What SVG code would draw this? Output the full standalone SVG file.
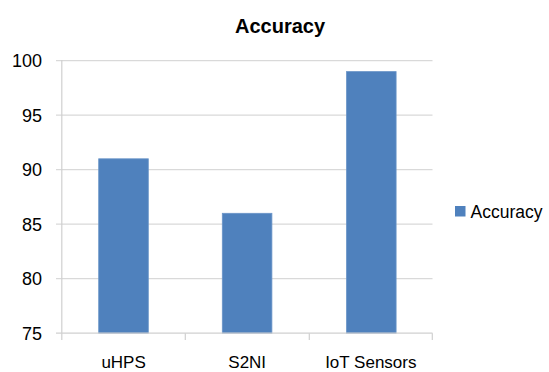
<svg xmlns="http://www.w3.org/2000/svg" width="549" height="372" viewBox="0 0 549 372">
  <style>
    text { font-family: "Liberation Sans", Arial, sans-serif; fill: #000; }
    .title { font-size: 20px; font-weight: bold; }
    .ytick { font-size: 18px; text-anchor: end; }
    .xtick { font-size: 17px; text-anchor: middle; }
    .legend { font-size: 17.5px; }
    .grid { stroke: #D9D9D9; stroke-width: 1.2; fill: none; }
    .axis { stroke: #D0D0D0; stroke-width: 1.2; fill: none; }
    .bar { fill: #4F81BD; stroke: #6A95C8; stroke-width: 0.8; }
  </style>
  <rect width="549" height="372" fill="#fff"/>

  <text class="title" x="280" y="33" text-anchor="middle">Accuracy</text>

  <!-- horizontal gridlines with tick stubs -->
  <g id="gridlines">
    <line class="grid" x1="56" y1="60.7" x2="432.5" y2="60.7"/>
    <line class="grid" x1="56" y1="115.2" x2="432.5" y2="115.2"/>
    <line class="grid" x1="56" y1="169.7" x2="432.5" y2="169.7"/>
    <line class="grid" x1="56" y1="224.2" x2="432.5" y2="224.2"/>
    <line class="grid" x1="56" y1="278.7" x2="432.5" y2="278.7"/>
  </g>

  <!-- value axis labels -->
  <g id="y-labels">
    <text class="ytick" x="42" y="67.3">100</text>
    <text class="ytick" x="42" y="121.8">95</text>
    <text class="ytick" x="42" y="176.3">90</text>
    <text class="ytick" x="42" y="230.8">85</text>
    <text class="ytick" x="42" y="285.3">80</text>
    <text class="ytick" x="42" y="339.8">75</text>
  </g>

  <!-- bars -->
  <g id="bar-uHPS"><rect class="bar" x="98.7" y="158.8" width="49.6" height="174.4"/></g>
  <g id="bar-S2NI"><rect class="bar" x="222.3" y="213.3" width="49.6" height="119.9"/></g>
  <g id="bar-IoT"><rect class="bar" x="346.5" y="71.6" width="49.6" height="261.6"/></g>

  <!-- axes -->
  <g id="axes">
    <line class="axis" x1="61.8" y1="60" x2="61.8" y2="340"/>
    <line class="axis" x1="56" y1="333.2" x2="432.5" y2="333.2"/>
    <line class="axis" x1="185.3" y1="333.2" x2="185.3" y2="340"/>
    <line class="axis" x1="309.3" y1="333.2" x2="309.3" y2="340"/>
    <line class="axis" x1="432.3" y1="333.2" x2="432.3" y2="340"/>
  </g>

  <!-- category labels -->
  <g id="x-labels">
    <text class="xtick" x="123.6" y="368">uHPS</text>
    <text class="xtick" x="247.2" y="368">S2NI</text>
    <text class="xtick" x="370.8" y="368">IoT Sensors</text>
  </g>

  <!-- legend -->
  <g id="legend">
    <rect x="455" y="206" width="10.5" height="10.5" fill="#4F81BD"/>
    <text class="legend" x="470.5" y="218">Accuracy</text>
  </g>
</svg>
